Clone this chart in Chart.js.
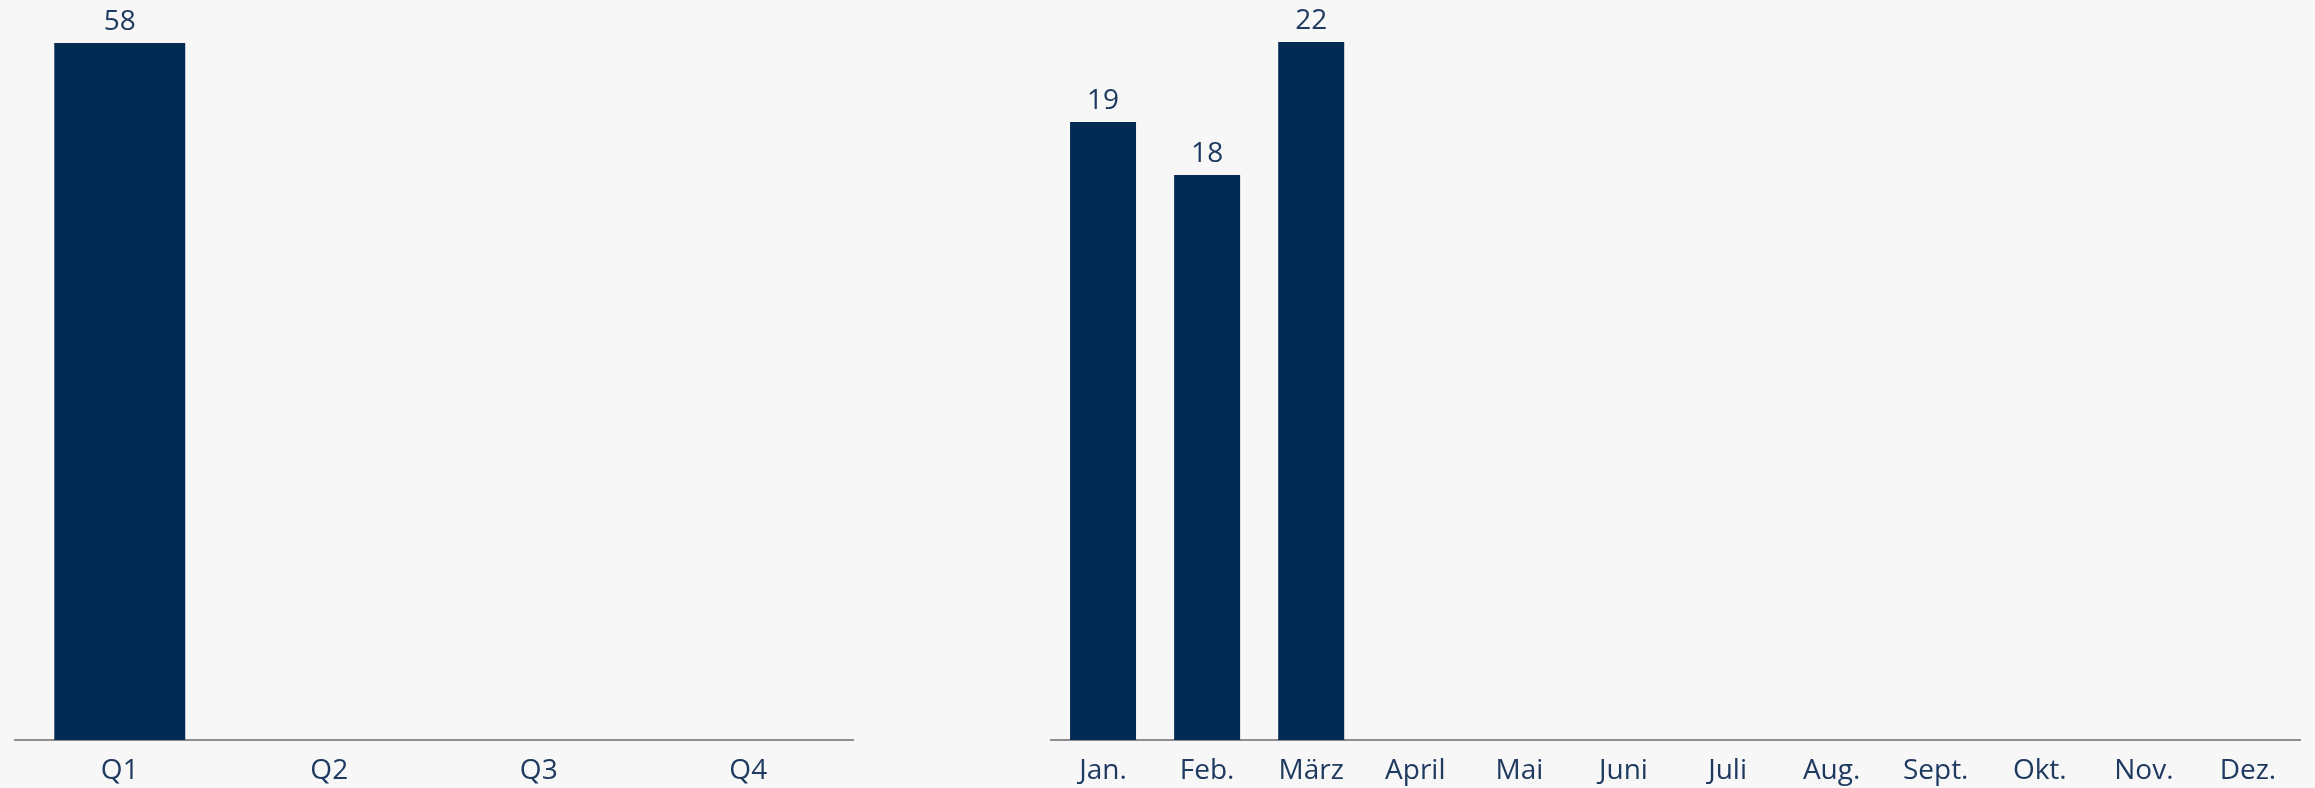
<!DOCTYPE html>
<html>
<head>
<meta charset="utf-8">
<script src="https://cdn.jsdelivr.net/npm/chart.js@4.4.1/dist/chart.umd.min.js"></script>
<style>
  html, body { margin:0; padding:0; background:#f7f7f7; width:2315px; height:788px; overflow:hidden; }
  .box { position:absolute; top:0; height:788px; }
  #left { left:0; width:868px; }
  #right { left:1036px; width:1279px; }
</style>
</head>
<body>
<div class="box" id="left"><canvas id="c1"></canvas></div>
<div class="box" id="right"><canvas id="c2"></canvas></div>
<script>
const quarterLabels = ['Q1', 'Q2', 'Q3', 'Q4'];
const quarterValues = [58, null, null, null];
const monthLabels = ['Jan.', 'Feb.', 'März', 'April', 'Mai', 'Juni', 'Juli', 'Aug.', 'Sept.', 'Okt.', 'Nov.', 'Dez.'];
const monthValues = [19.3, 17.65, 21.8, null, null, null, null, null, null, null, null, null];

const BAR = '#022a52';
const TEXT = '#1f3a60';
const FONT = "'Open Sans', sans-serif";

const valueLabels = {
  id: 'valueLabels',
  afterDatasetsDraw(chart) {
    const ctx = chart.ctx;
    const meta = chart.getDatasetMeta(0);
    const data = chart.data.datasets[0].data;
    ctx.save();
    ctx.font = '28px ' + FONT;
    ctx.fillStyle = TEXT;
    ctx.textAlign = 'center';
    ctx.textBaseline = 'alphabetic';
    meta.data.forEach((bar, i) => {
      const v = data[i];
      if (v === null || v === undefined) return;
      ctx.fillText(String(Math.round(v)), bar.x, bar.y - 13);
    });
    ctx.restore();
  }
};

function makeChart(id, labels, values, topPad, pct) {
  const nums = values.filter(v => v !== null);
  return new Chart(document.getElementById(id), {
    type: 'bar',
    data: { labels: labels, datasets: [{ data: values, backgroundColor: BAR, borderWidth: 0,
      categoryPercentage: 1, barPercentage: pct }] },
    options: {
      responsive: true, maintainAspectRatio: false, animation: false,
      layout: { padding: { top: topPad, left: 15, right: 15, bottom: 0 } },
      plugins: { legend: { display: false }, tooltip: { enabled: false } },
      scales: {
        x: {
          grid: { display: false, drawTicks: false },
          border: { display: true, color: '#8e8e8e', width: 2 },
          ticks: { color: TEXT, font: { family: FONT, size: 28 }, padding: 14, maxRotation: 0, autoSkip: false },
          afterFit(scale) { scale.height = 48; }
        },
        y: { display: false, min: 0, max: Math.max(...nums) }
      }
    },
    plugins: [valueLabels]
  });
}

makeChart('c1', quarterLabels, quarterValues, 43, 0.625);
makeChart('c2', monthLabels, monthValues, 42, 0.634);
</script>
</body>
</html>
